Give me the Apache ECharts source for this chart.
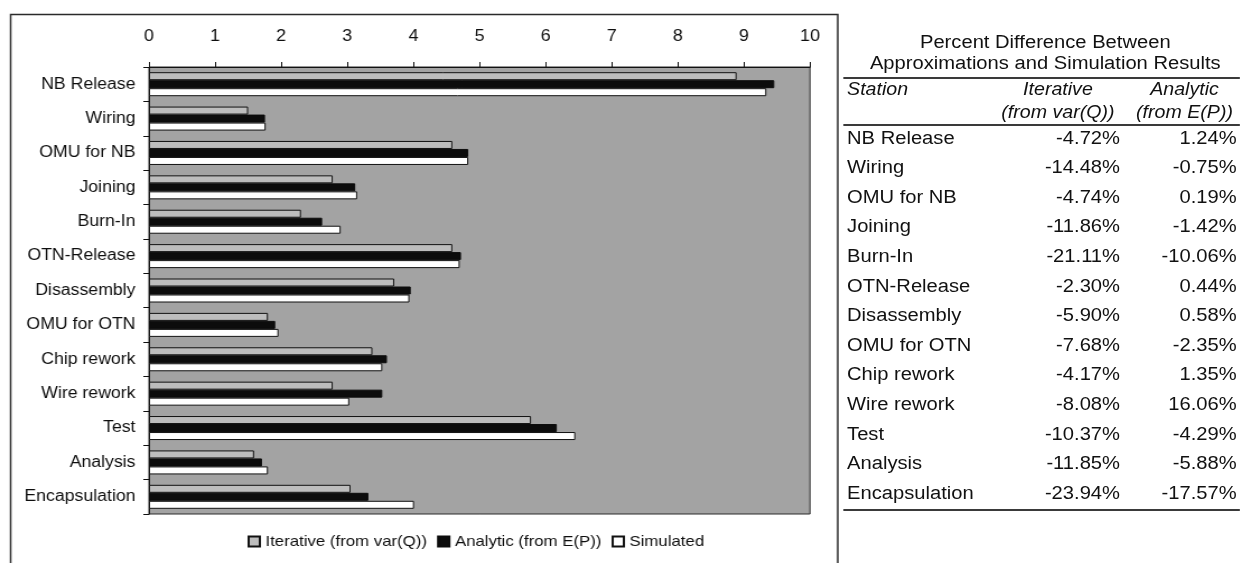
<!DOCTYPE html>
<html>
<head>
<meta charset="utf-8">
<script src="https://cdn.jsdelivr.net/npm/echarts@6/dist/echarts.min.js"></script>
<style>
  html, body { margin: 0; padding: 0; background: #fff; overflow: hidden; }
  body { width: 1240px; height: 563px; position: relative; }
  /* the whole figure is drawn slightly narrow and widened horizontally */
  #wrap { position: absolute; left: 0; top: 0; width: 1107px; height: 563px;
          transform: scaleX(1.12); transform-origin: 0 0; }
  #chart { position: absolute; left: 0; top: 0; width: 760px; height: 563px; }
  #table { position: absolute; left: 0; top: 0; width: 1107px; height: 563px;
           font-family: "Liberation Sans", Arial, sans-serif; color: #111; }
  .t { position: absolute; white-space: nowrap; line-height: 1; }
  .rule { position: absolute; left: 752.7px; width: 354.3px; height: 2px; background: #3a3a3a; }
</style>
</head>
<body>
<div id="wrap">
  <div id="chart"></div>
  <div id="table"></div>
</div>
<script>
// Stations, top to bottom
const categories = ['NB Release', 'Wiring', 'OMU for NB', 'Joining', 'Burn-In', 'OTN-Release',
  'Disassembly', 'OMU for OTN', 'Chip rework', 'Wire rework', 'Test', 'Analysis', 'Encapsulation'];

// Values per station
const iterative = [8.89, 1.50, 4.59, 2.78, 2.30, 4.59, 3.71, 1.80, 3.38, 2.78, 5.78, 1.59, 3.05];
const analytic  = [9.46, 1.755, 4.83, 3.12, 2.62, 4.72, 3.96, 1.91, 3.60, 3.53, 6.17, 1.71, 3.32];
const simulated = [9.34, 1.765, 4.83, 3.15, 2.90, 4.70, 3.94, 1.96, 3.53, 3.03, 6.45, 1.80, 4.01];

const seriesNames = ['Iterative (from var(Q))', 'Analytic (from E(P))', 'Simulated'];

// Percent difference table
const tableTitle = ['Percent Difference Between', 'Approximations and Simulation Results'];
const tableHeaders = ['Station', 'Iterative', '(from var(Q))', 'Analytic', '(from E(P))'];
const pctIterative = ['-4.72%', '-14.48%', '-4.74%', '-11.86%', '-21.11%', '-2.30%', '-5.90%',
  '-7.68%', '-4.17%', '-8.08%', '-10.37%', '-11.85%', '-23.94%'];
const pctAnalytic = ['1.24%', '-0.75%', '0.19%', '-1.42%', '-10.06%', '0.44%', '0.58%',
  '-2.35%', '1.35%', '16.06%', '-4.29%', '-5.88%', '-17.57%'];

const FONT = '"Liberation Sans", Arial, sans-serif';
const INK = '#0e0e0e';

const chart = echarts.init(document.getElementById('chart'), null, { renderer: 'canvas' });

const barBase = { type: 'bar', barWidth: 8, barGap: '0%', silent: true };

chart.setOption({
  animation: false,
  textStyle: { fontFamily: FONT, color: INK },
  graphic: [{
    type: 'rect', left: 7, top: 12, z: -1,
    shape: { width: 738.5, height: 549.5 },
    style: { fill: 'none', stroke: '#2a2a2a', lineWidth: 1.5 }
  }],
  grid: {
    left: 133, top: 67, width: 590.2, height: 447,
    show: true, backgroundColor: '#a3a3a3', borderColor: '#2a2a2a', borderWidth: 1
  },
  legend: {
    left: 216, top: 529,
    itemWidth: 10, itemHeight: 10, itemGap: 9,
    selectedMode: false,
    icon: 'rect',
    textStyle: { fontFamily: FONT, fontSize: 15, color: INK },
    data: seriesNames
  },
  xAxis: {
    type: 'value', position: 'top', min: 0, max: 10, interval: 1,
    axisLine: { show: true, lineStyle: { color: '#111', width: 1 } },
    axisTick: { show: true, length: 5, lineStyle: { color: '#111' } },
    axisLabel: { fontFamily: FONT, fontSize: 16, color: INK, margin: 22 },
    splitLine: { show: false }
  },
  yAxis: {
    type: 'category', inverse: true, data: categories,
    axisLine: { show: true, lineStyle: { color: '#111', width: 1 } },
    axisTick: { show: true, length: 5, lineStyle: { color: '#111' } },
    axisLabel: { fontFamily: FONT, fontSize: 15.8, color: INK, margin: 12 }
  },
  series: [
    Object.assign({ name: seriesNames[0], data: iterative,
      itemStyle: { color: '#bdbdbd', borderColor: '#111', borderWidth: 1 } }, barBase),
    Object.assign({ name: seriesNames[1], data: analytic,
      itemStyle: { color: '#0c0c0c', borderColor: '#0c0c0c', borderWidth: 1 } }, barBase),
    Object.assign({ name: seriesNames[2], data: simulated,
      itemStyle: { color: '#ffffff', borderColor: '#111', borderWidth: 1 } }, barBase)
  ]
});

// Table beside the chart
(function buildTable() {
  const host = document.getElementById('table');
  function put(text, opts) {
    const el = document.createElement('div');
    el.className = 't';
    el.textContent = text;
    el.style.fontSize = (opts.size || 18) + 'px';
    if (opts.italic) el.style.fontStyle = 'italic';
    const h = opts.size || 18;
    el.style.top = (opts.cy - h / 2) + 'px';
    if (opts.align === 'right') {
      el.style.right = (1107 - opts.x) + 'px';
    } else if (opts.align === 'center') {
      el.style.left = opts.x + 'px';
      el.style.transform = 'translateX(-50%)';
    } else {
      el.style.left = opts.x + 'px';
    }
    host.appendChild(el);
  }
  function rule(y) {
    const r = document.createElement('div');
    r.className = 'rule';
    r.style.top = (y - 1) + 'px';
    host.appendChild(r);
  }
  put(tableTitle[0], { x: 933.3, cy: 42, size: 18, align: 'center' });
  put(tableTitle[1], { x: 933.3, cy: 63, size: 18, align: 'center' });
  rule(77.5);
  put(tableHeaders[0], { x: 756.3, cy: 90, italic: true, size: 17.5 });
  put(tableHeaders[1], { x: 944.6, cy: 90, italic: true, size: 17.5, align: 'center' });
  put(tableHeaders[2], { x: 944.6, cy: 113, italic: true, size: 17.5, align: 'center' });
  put(tableHeaders[3], { x: 1057.6, cy: 90, italic: true, size: 17.5, align: 'center' });
  put(tableHeaders[4], { x: 1057.6, cy: 113, italic: true, size: 17.5, align: 'center' });
  rule(125);
  const rowStep = 29.6;
  categories.forEach(function (name, i) {
    const cy = 137.5 + i * rowStep;
    put(name, { x: 756.3, cy: cy });
    put(pctIterative[i], { x: 1000, cy: cy, align: 'right' });
    put(pctAnalytic[i], { x: 1104.2, cy: cy, align: 'right' });
  });
  rule(510);
})();
</script>
</body>
</html>
